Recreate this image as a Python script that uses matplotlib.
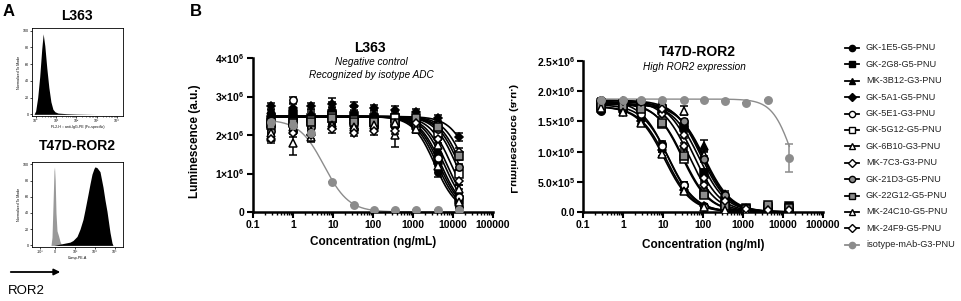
import numpy as np
import matplotlib
matplotlib.use('Agg')
import matplotlib.pyplot as plt
from matplotlib.lines import Line2D
from matplotlib.textpath import TextPath
from matplotlib.patches import PathPatch
from matplotlib.font_manager import FontProperties
from matplotlib.transforms import Affine2D

plt.rcParams['font.family'] = ['Liberation Sans', 'DejaVu Sans']
plt.rcParams['mathtext.fontset'] = 'custom'
plt.rcParams['mathtext.bf'] = 'Liberation Sans:bold'
plt.rcParams['mathtext.rm'] = 'Liberation Sans'
plt.rcParams['mathtext.default'] = 'bf'

# --- panel A: flow histograms ---
l363_x = [-0.15, -0.08, 0.0, 0.1, 0.2, 0.3, 0.37, 0.45, 0.55, 0.65, 0.75, 0.85, 0.95, 1.1, 1.5, 2.0, 3.0, 4.2]
l363_y = [0, 0, 4, 20, 45, 78, 96, 82, 55, 32, 15, 6, 3, 1.5, 0.8, 0.4, 0, 0]

t47d_iso_x = [19.0, 20.0, 21.0, 22.0, 22.5, 23.2, 24.0, 25.0, 26.5, 28.0, 29.7]
t47d_iso_y = [0, 10, 50, 92, 97, 80, 40, 18, 12, 5, 0]
t47d_x = [22, 26, 30, 34, 38, 41, 45, 48, 51, 53, 56, 58, 60, 62, 63, 65, 68, 71, 73, 75, 78, 80, 81]
t47d_y = [0, 1, 2, 3, 4, 6, 11, 20, 32, 44, 63, 76, 88, 95, 97, 96, 91, 72, 56, 42, 16, 3, 0]
t47d_tick_pos = [8, 23, 43, 63, 83]
t47d_tick_lab = ['-10³', '0', '10³', '10⁴', '10⁵']

# --- panel B: cytotoxicity ---
names = ['GK-1E5-G5-PNU', 'GK-2G8-G5-PNU', 'MK-3B12-G3-PNU', 'GK-5A1-G5-PNU',
         'GK-5E1-G3-PNU', 'GK-5G12-G5-PNU', 'GK-6B10-G3-PNU', 'MK-7C3-G3-PNU',
         'GK-21D3-G5-PNU', 'GK-22G12-G5-PNU', 'MK-24C10-G5-PNU', 'MK-24F9-G5-PNU',
         'isotype-mAb-G3-PNU']
conc = [0.29, 1.0, 2.9, 9.6, 34, 107, 363, 1200, 4200, 14400]

# L363, luminescence x 1e6
l363_vals = [
    [2.55, 2.45, 2.50, 2.60, 2.45, 2.50, 2.40, 2.15, 1.05, 0.14],
    [2.40, 2.55, 2.45, 2.55, 2.50, 2.45, 2.45, 2.25, 1.35, 0.30],
    [2.65, 2.60, 2.55, 2.70, 2.60, 2.55, 2.50, 2.35, 1.60, 0.50],
    [2.75, 2.70, 2.75, 2.80, 2.75, 2.70, 2.65, 2.60, 2.45, 1.95],
    [2.35, 2.90, 2.30, 2.45, 2.35, 2.40, 2.35, 2.20, 1.40, 0.40],
    [2.30, 2.35, 2.40, 2.50, 2.40, 2.35, 2.45, 2.35, 2.05, 1.00],
    [1.95, 1.80, 1.95, 2.30, 2.25, 2.30, 2.00, 2.30, 1.75, 0.60],
    [2.20, 2.25, 2.25, 2.35, 2.30, 2.30, 2.25, 2.40, 2.25, 1.55],
    [2.10, 2.10, 2.20, 2.40, 2.15, 2.20, 2.25, 2.40, 2.15, 1.17],
    [2.25, 2.30, 2.35, 2.45, 2.35, 2.35, 2.30, 2.45, 2.20, 1.45],
    [2.05, 2.20, 2.10, 2.25, 2.20, 2.25, 2.30, 2.15, 1.20, 0.25],
    [1.90, 2.05, 2.00, 2.15, 2.05, 2.10, 2.10, 2.30, 1.90, 0.80],
    [2.35, 2.25, 2.05, 0.77, 0.17, 0.06, 0.04, 0.04, 0.04, 0.04],
]
l363_err = [
    [0.10, 0.08, 0.10, 0.12, 0.10, 0.08, 0.08, 0.10, 0.15, 0.05],
    [0.08, 0.10, 0.08, 0.15, 0.12, 0.08, 0.10, 0.08, 0.12, 0.08],
    [0.10, 0.08, 0.10, 0.15, 0.12, 0.10, 0.10, 0.08, 0.15, 0.10],
    [0.08, 0.10, 0.08, 0.15, 0.10, 0.08, 0.10, 0.08, 0.08, 0.10],
    [0.10, 0.08, 0.08, 0.10, 0.10, 0.08, 0.08, 0.08, 0.12, 0.10],
    [0.08, 0.08, 0.10, 0.10, 0.08, 0.08, 0.08, 0.10, 0.12, 0.10],
    [0.10, 0.33, 0.12, 0.10, 0.10, 0.10, 0.30, 0.10, 0.12, 0.10],
    [0.08, 0.08, 0.08, 0.10, 0.08, 0.08, 0.08, 0.08, 0.10, 0.10],
    [0.08, 0.08, 0.08, 0.10, 0.08, 0.08, 0.08, 0.08, 0.10, 0.08],
    [0.08, 0.08, 0.08, 0.10, 0.08, 0.08, 0.08, 0.08, 0.10, 0.10],
    [0.10, 0.10, 0.08, 0.10, 0.08, 0.08, 0.08, 0.08, 0.10, 0.08],
    [0.10, 0.10, 0.10, 0.10, 0.08, 0.10, 0.08, 0.08, 0.10, 0.10],
    [0, 0, 0, 0, 0, 0, 0, 0, 0, 0],
]
l363_top = [2.48] * 12 + [2.40]
l363_ec50 = [3500, 4500, 6000, 30000, 5000, 12000, 7000, 20000, 14000, 16000, 4000, 9000, 6]
l363_hill = [1.6] * 12 + [1.4]

# T47D-ROR2, luminescence x 1e6
t47d_vals = [
    [1.68, 1.70, 1.55, 1.12, 0.45, 0.10, 0.04, 0.03, 0.03, 0.03],
    [1.72, 1.75, 1.78, 1.70, 1.40, 0.65, 0.20, 0.06, 0.08, 0.10],
    [1.75, 1.72, 1.68, 1.70, 1.48, 1.10, 0.30, 0.06, 0.03, 0.03],
    [1.72, 1.66, 1.50, 1.03, 0.36, 0.10, 0.03, 0.02, 0.02, 0.02],
    [1.85, 1.80, 1.62, 1.10, 0.45, 0.09, 0.03, 0.02, 0.02, 0.02],
    [1.80, 1.78, 1.72, 1.46, 0.88, 0.30, 0.06, 0.04, 0.05, 0.05],
    [1.82, 1.80, 1.82, 1.78, 1.68, 0.95, 0.25, 0.05, 0.04, 0.04],
    [1.83, 1.82, 1.80, 1.62, 1.10, 0.44, 0.12, 0.04, 0.03, 0.03],
    [1.80, 1.78, 1.80, 1.76, 1.50, 0.88, 0.28, 0.07, 0.05, 0.05],
    [1.76, 1.76, 1.70, 1.48, 0.92, 0.28, 0.10, 0.05, 0.12, 0.06],
    [1.72, 1.66, 1.47, 0.96, 0.35, 0.08, 0.03, 0.02, 0.02, 0.02],
    [1.84, 1.83, 1.82, 1.70, 1.28, 0.56, 0.18, 0.05, 0.03, 0.03],
    [1.85, 1.86, 1.86, 1.86, 1.86, 1.85, 1.83, 1.81, 1.86, 0.90],
]
t47d_err = [
    [0.04, 0.03, 0.04, 0.05, 0.04, 0.03, 0.02, 0.02, 0.02, 0.02],
    [0.03, 0.03, 0.03, 0.04, 0.05, 0.06, 0.03, 0.02, 0.02, 0.03],
    [0.03, 0.04, 0.04, 0.05, 0.05, 0.10, 0.04, 0.02, 0.02, 0.02],
    [0.04, 0.03, 0.04, 0.04, 0.04, 0.03, 0.02, 0.02, 0.02, 0.02],
    [0.03, 0.03, 0.03, 0.04, 0.04, 0.03, 0.02, 0.02, 0.02, 0.02],
    [0.03, 0.03, 0.04, 0.04, 0.05, 0.04, 0.02, 0.02, 0.02, 0.02],
    [0.03, 0.03, 0.03, 0.04, 0.08, 0.06, 0.04, 0.02, 0.02, 0.02],
    [0.03, 0.03, 0.03, 0.04, 0.04, 0.04, 0.03, 0.02, 0.02, 0.02],
    [0.03, 0.03, 0.03, 0.03, 0.04, 0.05, 0.03, 0.02, 0.02, 0.02],
    [0.03, 0.03, 0.04, 0.04, 0.10, 0.04, 0.03, 0.02, 0.03, 0.02],
    [0.03, 0.03, 0.04, 0.04, 0.04, 0.03, 0.02, 0.02, 0.02, 0.02],
    [0.03, 0.03, 0.03, 0.04, 0.05, 0.04, 0.03, 0.02, 0.02, 0.02],
    [0, 0, 0, 0, 0, 0, 0, 0, 0, 0.23],
]
t47d_top = [1.78, 1.80, 1.78, 1.75, 1.85, 1.82, 1.85, 1.85, 1.82, 1.80, 1.75, 1.85, 1.87]
t47d_ec50 = [14, 80, 110, 12, 13, 30, 90, 45, 100, 32, 11, 60, 17400]
t47d_hill = [1.3] * 12 + [1.72]

xtick_vals = [0.1, 1, 10, 100, 1000, 10000, 100000]
xtick_labs = ['0.1', '1', '10', '100', '1000', '10000', '100000']
l363_yticks = [0, 1e6, 2e6, 3e6, 4e6]
l363_ylabs = ['0', '1×10$^{6}$', '2×10$^{6}$', '3×10$^{6}$', '4×10$^{6}$']
t47d_yticks = [0, 0.5e6, 1e6, 1.5e6, 2e6, 2.5e6]
t47d_ylabs = ['0.0', '5.0×10$^{5}$', '1.0×10$^{6}$', '1.5×10$^{6}$', '2.0×10$^{6}$', '2.5×10$^{6}$']

GRAY = '#8c8c8c'
markers = ['o', 's', '^', 'D', 'o', 's', '^', 'D', 'o', 's', '^', 'D', 'o']
faces = ['black'] * 4 + ['white'] * 4 + [GRAY, GRAY, 'white', 'white', GRAY]
edges = ['black'] * 12 + [GRAY]

W, H = 961, 301
fig = plt.figure(figsize=(W / 100, H / 100), dpi=100)


def rect(l, t, r, b):
    return [l / W, 1 - b / H, (r - l) / W, (b - t) / H]


def ftext(x, y, s, **kw):
    fig.text(x / W, 1 - y / H, s, **kw)


def fourpl(x, top, ec50, hill):
    return top / (1 + (x / ec50) ** hill)


# ---------------- panel A ----------------
ftext(3, 11, 'A', fontsize=12, fontweight='bold', va='center')
ftext(77, 16, 'L363', fontsize=10, fontweight='bold', ha='center', va='center')
ftext(77, 146, 'T47D-ROR2', fontsize=10, fontweight='bold', ha='center', va='center')

axa1 = fig.add_axes(rect(32, 28, 123, 116))
axa1.fill_between(l363_x, l363_y, color='black', lw=0)
axa1.set_xlim(-0.18, 4.3)
axa1.set_ylim(-2, 103)
axa1.set_xticks([0, 1, 2, 3, 4])
axa1.set_xticklabels(['10⁰', '10¹', '10²', '10³', '10⁴'])
minors = [np.log10(k * 10.0 ** d) for d in range(4) for k in range(2, 10)]
axa1.set_xticks(minors, minor=True)
axa1.set_xlabel('FL2-H :: anti-IgG-PE (Fc-specific)', fontsize=2.6, labelpad=1)

axa2 = fig.add_axes(rect(32, 162, 123, 247))
axa2.fill_between(t47d_iso_x, t47d_iso_y, color='#999999', lw=0)
axa2.fill_between(t47d_x, t47d_y, color='black', lw=0)
axa2.set_xlim(0, 91)
axa2.set_ylim(-2, 103)
axa2.set_xticks(t47d_tick_pos)
axa2.set_xticklabels(t47d_tick_lab)
axa2.set_xlabel('Comp-PE-A', fontsize=2.6, labelpad=1)

for ax in (axa1, axa2):
    ax.set_yticks([0, 20, 40, 60, 80, 100])
    ax.set_ylabel('Normalized To Mode', fontsize=2.6, labelpad=1)
    ax.tick_params(labelsize=2.6, length=1.5, width=0.5, pad=1)
    ax.tick_params(which='minor', length=1, width=0.4)
    for s in ax.spines.values():
        s.set_linewidth(0.6)

axa2.annotate('', xy=(63 / W, 1 - 272 / H), xytext=(8 / W, 1 - 272 / H),
              xycoords='figure fraction', textcoords='figure fraction',
              arrowprops=dict(arrowstyle='-|>', color='black', lw=1.3, mutation_scale=9))
ftext(8, 291, 'ROR2', fontsize=9.5, va='center')

# ---------------- panel B ----------------
ftext(190, 12, 'B', fontsize=12, fontweight='bold', va='center')

ax1 = fig.add_axes(rect(253, 58, 493, 212))
ax2 = fig.add_axes(rect(583, 61, 823, 212))

xs = np.logspace(np.log10(conc[0]), np.log10(conc[-1]), 300)
panels = [(ax1, l363_vals, l363_err, l363_top, l363_ec50, l363_hill),
          (ax2, t47d_vals, t47d_err, t47d_top, t47d_ec50, t47d_hill)]
for ax, vals, errs, tops, ec50s, hills in panels:
    for i in range(len(names)):
        line_c = GRAY if i == 12 else 'black'
        ax.plot(xs, fourpl(xs, tops[i] * 1e6, ec50s[i], hills[i]), color=line_c,
                lw=1.0 if i == 12 else 1.2, zorder=2)
        ax.errorbar(conc, np.array(vals[i]) * 1e6, yerr=np.array(errs[i]) * 1e6,
                    fmt=markers[i], ms=5.3 if markers[i] != 'D' else 4.5,
                    mfc=faces[i], mec=edges[i], mew=1.1, ecolor=line_c,
                    elinewidth=1.1, capsize=2.6, capthick=1.1, ls='none', zorder=3)
    ax.set_xscale('log')
    ax.set_xlim(0.1, 100000)
    ax.set_xticks(xtick_vals)
    ax.set_xticklabels(xtick_labs)
    ax.spines[['top', 'right']].set_visible(False)
    ax.spines[['left', 'bottom']].set_linewidth(1.8)
    ax.tick_params(which='major', length=4, width=1.5, labelsize=7.5, pad=2)
    ax.tick_params(which='minor', length=2.5, width=1.0)
    ax.tick_params(axis='y', which='minor', left=False)
    for lab in ax.get_xticklabels() + ax.get_yticklabels():
        lab.set_fontweight('bold')

ax1.set_ylim(0, 4e6)
ax1.set_yticks(l363_yticks)
ax1.set_yticklabels(l363_ylabs, fontweight='bold')
ax2.set_ylim(0, 2.5e6)
ax2.set_yticks(t47d_yticks)
ax2.set_yticklabels(t47d_ylabs, fontweight='bold')

ax1.set_xlabel('Concentration (ng/mL)', fontsize=8.5, fontweight='bold', labelpad=4)
ax2.set_xlabel('Concentration (ng/ml)', fontsize=8.5, fontweight='bold', labelpad=6)
ax1.set_ylabel('Luminescence (a.u.)', fontsize=8.5, fontweight='bold')
ax1.yaxis.set_label_coords(-0.215, 0.46)

ftext(370, 48, 'L363', fontsize=10, fontweight='bold', ha='center', va='center')
ftext(371, 62, 'Negative control', fontsize=7.2, style='italic', ha='center', va='center')
ftext(371, 75, 'Recognized by isotype ADC', fontsize=7.2, style='italic', ha='center',
      va='center')
ftext(697, 52, 'T47D-ROR2', fontsize=10, fontweight='bold', ha='center', va='center')
ftext(694, 67, 'High ROR2 expression', fontsize=7.2, style='italic', ha='center',
      va='center')

# mirrored y label of the right panel (as in the scanned figure)
tp = TextPath((0, 0), 'Luminescence (a.u.)', size=8.5,
              prop=FontProperties(family='Liberation Sans', weight='bold'))
ext = tp.get_extents()
scale = 112 / ext.width
tr = (Affine2D().translate(-ext.x0, 0).scale(scale * 0.96, 1.15).rotate_deg(90)
      .scale(-1, 1).translate(511, H - 193).scale(1 / W, 1 / H))
fig.add_artist(PathPatch(tr.transform_path(tp), color='black', lw=0,
                         transform=fig.transFigure))

# legend
leg_y0, leg_dy = 48, 16.4
for i, name in enumerate(names):
    y = 1 - (leg_y0 + i * leg_dy) / H
    c = GRAY if i == 12 else 'black'
    fig.add_artist(Line2D([845 / W, 852 / W, 859 / W], [y, y, y], color=c, lw=1.3,
                          marker=markers[i], markevery=[1],
                          ms=4.5 if markers[i] != 'D' else 3.8,
                          mfc=faces[i], mec=edges[i], mew=1.0,
                          transform=fig.transFigure))
    ftext(866, leg_y0 + i * leg_dy, name, fontsize=6.6, color='#222222', va='center')

fig.savefig('out.png', dpi=100)
